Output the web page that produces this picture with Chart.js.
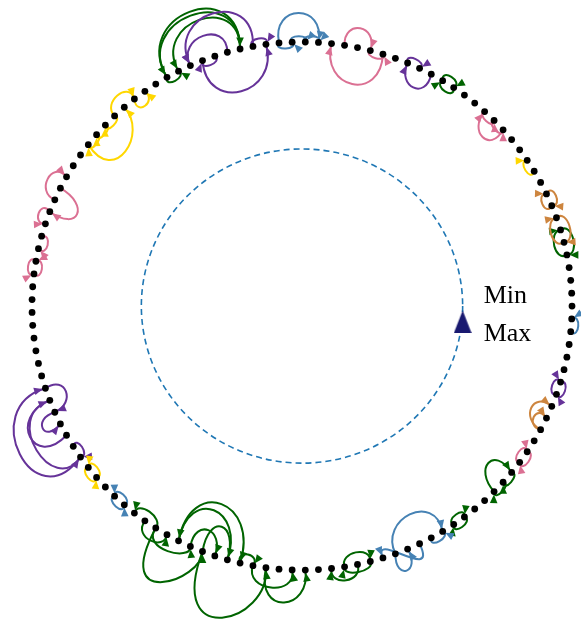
<!DOCTYPE html>
<html>
<head>
<meta charset="utf-8">
<script src="https://cdn.jsdelivr.net/npm/chart.js@4.4.1/dist/chart.umd.min.js"></script>
<style>
  html, body { margin: 0; padding: 0; background: #fff; }
  #wrap { width: 581px; height: 620px; }
</style>
</head>
<body>
<div id="wrap"><canvas id="ringChart" width="581" height="620"></canvas></div>
<script>
// nodes on the ring, counted off the picture (node 0 at 3 o'clock, going counter-clockwise)
const ringSize = 129;

// links per colour: [from node, to node, lift at start, lift at end]
// lift is in ring radii, + bulges outside the ring, - bulges inside
const greenLinks = [
  [37, 43, 0.25, 0.25], [37, 42, 0.21, 0.21], [43, 37, 0.27, 0.27], [43, 42, -0.035, -0.035],
  [21, 20, 0.04, 0.04], [20, 21, -0.04, -0.04],
  [6, 4, 0.05, 0.05], [4, 6, -0.05, -0.05],
  [113, 115, -0.12, -0.12], [115, 114, 0.03, 0.03], [114, 113, 0.03, 0.03],
  [110, 109, 0.035, 0.035], [109, 110, -0.035, -0.035],
  [101, 99, 0.07, 0.07], [100, 102, -0.06, -0.06], [102, 100, 0.04, 0.04],
  [85, 83, -0.05, -0.05], [84, 86, 0.08, 0.06], [85, 88, 0.1, 0.05], [85, 89, 0.36, 0.1],
  [87, 92, -0.25, -0.25], [91, 87, -0.21, -0.21], [89, 91, -0.15, -0.15], [88, 90, -0.11, -0.11],
  [89, 94, 0.4, 0.2], [93, 96, 0.1, 0.1], [94, 97, 0.19, 0.15], [92, 93, -0.05, -0.05]
];
const purpleLinks = [
  [36, 41, 0.22, 0.22], [38, 41, 0.12, 0.12], [40, 35, -0.2, -0.2], [39, 40, -0.035, -0.035], [36, 35, 0.035, 0.035],
  [22, 24, -0.1, -0.1], [24, 23, 0.035, 0.035],
  [123, 122, 0.035, 0.035], [122, 123, -0.035, -0.035],
  [77, 71, 0.28, 0.26], [72, 77, 0.19, 0.17], [75, 72, 0.17, 0.17], [73, 74, 0.09, 0.09],
  [71, 73, -0.09, -0.09], [76, 77, -0.035, -0.035]
];
const blueLinks = [
  [34, 31, 0.15, 0.15], [34, 33, -0.03, -0.03], [33, 32, 0.03, 0.03], [32, 31, 0.03, 0.03],
  [127, 128, 0.035, 0.035],
  [104, 108, -0.15, -0.15], [106, 103, 0.17, -0.12], [104, 105, 0.1, 0.1], [107, 108, 0.035, 0.035],
  [81, 82, 0.035, 0.035], [82, 81, -0.035, -0.035]
];
const pinkLinks = [
  [26, 30, -0.18, -0.18], [29, 27, 0.1, 0.1], [27, 26, -0.03, -0.03],
  [15, 17, -0.1, -0.1], [17, 16, -0.03, -0.03], [16, 15, -0.03, -0.03],
  [117, 116, 0.035, 0.035], [116, 117, -0.035, -0.035],
  [56, 54, 0.08, 0.08], [55, 57, -0.13, -0.13], [57, 58, 0.05, 0.05],
  [59, 60, -0.04, -0.04],
  [61, 62, 0.035, 0.035], [62, 61, -0.035, -0.035]
];
const goldLinks = [
  [11, 12, -0.035, -0.035],
  [78, 79, 0.035, 0.035], [79, 78, -0.035, -0.035],
  [51, 47, -0.18, -0.14], [48, 46, 0.07, 0.07], [46, 45, -0.06, -0.06],
  [48, 49, -0.03, -0.03], [49, 50, -0.03, -0.03], [50, 51, -0.03, -0.03]
];
const orangeLinks = [
  [9, 8, 0.04, 0.04], [8, 9, -0.04, -0.04],
  [7, 5, 0.05, 0.05], [5, 7, -0.05, -0.05],
  [119, 121, -0.09, -0.09], [119, 120, -0.06, -0.06]
];

const innerRadius = 0.595;
const markerLabels = ["Min", "Max"];

const linkSets = [
  [greenLinks, "#006400"],
  [purpleLinks, "#663399"],
  [blueLinks, "#4682b4"],
  [pinkLinks, "#db7093"],
  [goldLinks, "#ffd700"],
  [orangeLinks, "#cd853f"]
];

const ringPoint = (k) => {
  const t = 2 * Math.PI * k / ringSize;
  return { x: Math.cos(t), y: Math.sin(t) };
};
const ringNodes = Array.from({ length: ringSize }, (_, k) => ringPoint(k));

// loops in the picture lean a bit towards the vertical
const liftDir = (p) => {
  const vx = p.x * 0.8, vy = p.y * 1.2;
  const n = Math.hypot(vx, vy);
  return { x: vx / n, y: vy / n };
};

// up-pointing marker as a small canvas so chart.js can use it as point style
const markerImg = document.createElement("canvas");
markerImg.width = 18;
markerImg.height = 23;
const mctx = markerImg.getContext("2d");
mctx.fillStyle = "#191970";
mctx.beginPath();
mctx.moveTo(9, 0);
mctx.lineTo(18, 23);
mctx.lineTo(0, 23);
mctx.closePath();
mctx.fill();

const linkPlugin = {
  id: "ringLinks",
  beforeDatasetsDraw(chart) {
    const { ctx, scales: { x, y } } = chart;
    const px = (p) => ({ x: x.getPixelForValue(p.x), y: y.getPixelForValue(p.y) });
    const c = px({ x: 0, y: 0 });

    ctx.save();
    ctx.strokeStyle = "#1f77b4";
    ctx.lineWidth = 1.6;
    ctx.setLineDash([6, 4]);
    ctx.beginPath();
    ctx.ellipse(c.x, c.y, x.getPixelForValue(innerRadius) - c.x, c.y - y.getPixelForValue(innerRadius), 0, 0, 2 * Math.PI);
    ctx.stroke();
    ctx.setLineDash([]);

    linkSets.forEach(([links, color]) => {
      ctx.strokeStyle = color;
      ctx.fillStyle = color;
      ctx.lineWidth = 2;
      links.forEach(([a, b, h1, h2]) => {
        const p0 = ringPoint(a), p3 = ringPoint(b);
        const n0 = liftDir(p0), n3 = liftDir(p3);
        // neighbours get round little loops, longer links lean less
        const spread = Math.abs(a - b) === 1 ? 0.55 : 0.15;
        const c1 = { x: p0.x + n0.x * h1 + (p0.x - p3.x) * spread, y: p0.y + n0.y * h1 + (p0.y - p3.y) * spread };
        const c2 = { x: p3.x + n3.x * h2 + (p3.x - p0.x) * spread, y: p3.y + n3.y * h2 + (p3.y - p0.y) * spread };
        const P0 = px(p0), C1 = px(c1), C2 = px(c2), P3 = px(p3);
        ctx.beginPath();
        ctx.moveTo(P0.x, P0.y);
        ctx.bezierCurveTo(C1.x, C1.y, C2.x, C2.y, P3.x, P3.y);
        ctx.stroke();

        // arrow head at the end node
        let dx = P3.x - C2.x, dy = P3.y - C2.y;
        const len = Math.hypot(dx, dy) || 1;
        dx /= len; dy /= len;
        const tip = { x: P3.x - dx * 3, y: P3.y - dy * 3 };
        const base = { x: tip.x - dx * 8.5, y: tip.y - dy * 8.5 };
        ctx.beginPath();
        ctx.moveTo(tip.x, tip.y);
        ctx.lineTo(base.x - dy * 3.8, base.y + dx * 3.8);
        ctx.lineTo(base.x + dy * 3.8, base.y - dx * 3.8);
        ctx.closePath();
        ctx.fill();
      });
    });
    ctx.restore();
  },
  afterDatasetsDraw(chart) {
    const { ctx } = chart;
    const m = chart.getDatasetMeta(1).data[0];
    ctx.save();
    ctx.fillStyle = "#000";
    ctx.font = "26px 'Liberation Serif', 'DejaVu Serif', serif";
    ctx.textBaseline = "alphabetic";
    ctx.fillText(markerLabels[0], m.x + 21, m.y - 19);
    ctx.fillText(markerLabels[1], m.x + 21, m.y + 19);
    ctx.restore();
  }
};

new Chart("ringChart", {
  type: "scatter",
  data: {
    datasets: [
      {
        data: ringNodes,
        pointRadius: 3.4,
        pointBackgroundColor: "#000",
        pointBorderWidth: 0
      },
      {
        data: [{ x: innerRadius, y: -0.06 }],
        pointStyle: markerImg
      }
    ]
  },
  options: {
    responsive: false,
    animation: false,
    events: [],
    layout: { padding: 0, autoPadding: false },
    plugins: { legend: { display: false }, tooltip: { enabled: false } },
    scales: {
      x: { display: false, min: -1.1185, max: 1.0333 },
      y: { display: false, min: -1.189, max: 1.159 }
    }
  },
  plugins: [linkPlugin]
});
</script>
</body>
</html>
